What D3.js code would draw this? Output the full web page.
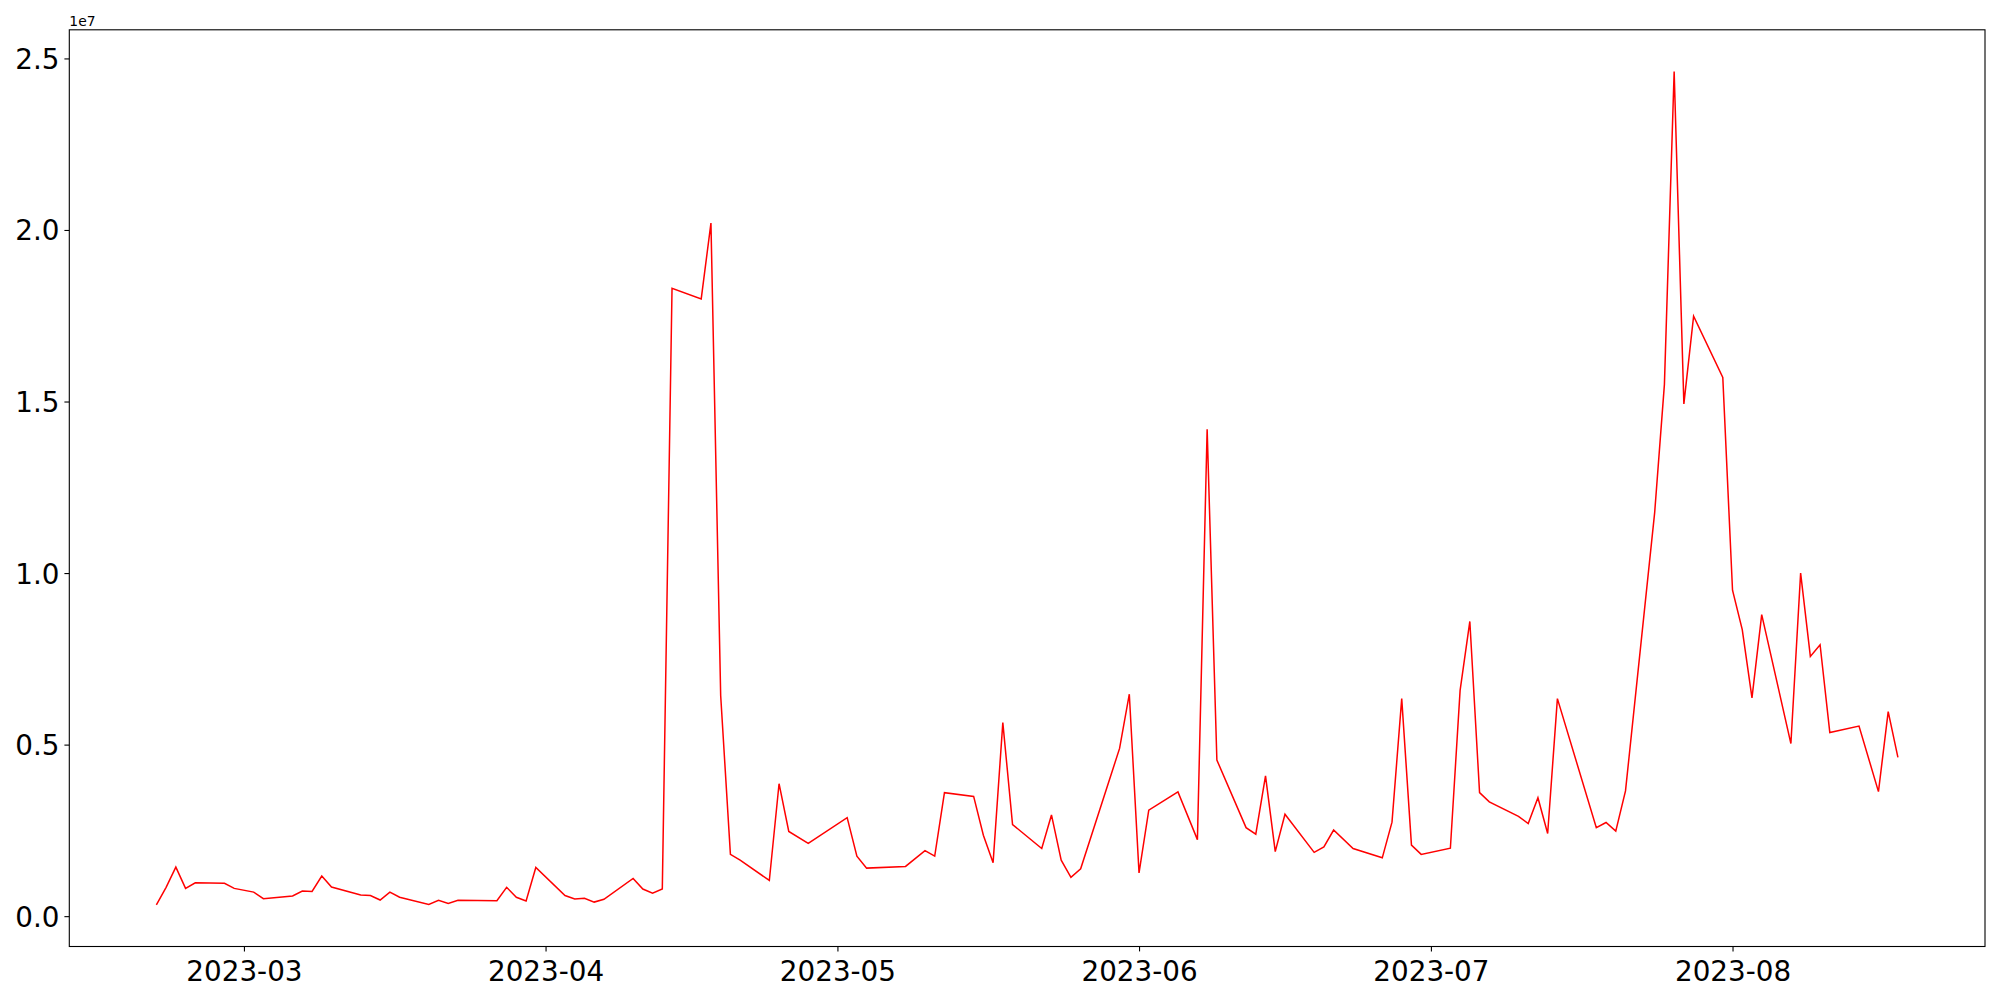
<!DOCTYPE html>
<html>
<head>
<meta charset="utf-8">
<script src="https://cdn.jsdelivr.net/npm/d3@7"></script>
<style>
  body { margin: 0; background: #fff; }
  svg { display: block; font-family: "DejaVu Sans", sans-serif; }
</style>
</head>
<body>
<div class="chart"></div>
<script>
// Dates (trading days) and daily values
var dates = [
  "2023-02-20", "2023-02-21", "2023-02-22", "2023-02-23", "2023-02-24", "2023-02-27", "2023-02-28",
  "2023-03-02", "2023-03-03", "2023-03-06", "2023-03-07", "2023-03-08", "2023-03-09", "2023-03-10",
  "2023-03-13", "2023-03-14", "2023-03-15", "2023-03-16", "2023-03-17", "2023-03-20", "2023-03-21",
  "2023-03-22", "2023-03-23", "2023-03-27", "2023-03-28", "2023-03-29", "2023-03-30", "2023-03-31",
  "2023-04-03", "2023-04-04", "2023-04-05", "2023-04-06", "2023-04-07", "2023-04-10", "2023-04-11",
  "2023-04-12", "2023-04-13", "2023-04-14", "2023-04-17", "2023-04-18", "2023-04-19", "2023-04-20",
  "2023-04-21", "2023-04-24", "2023-04-25", "2023-04-26", "2023-04-28", "2023-05-02", "2023-05-03",
  "2023-05-04", "2023-05-08", "2023-05-10", "2023-05-11", "2023-05-12", "2023-05-15", "2023-05-16",
  "2023-05-17", "2023-05-18", "2023-05-19", "2023-05-22", "2023-05-23", "2023-05-24", "2023-05-25",
  "2023-05-26", "2023-05-30", "2023-05-31", "2023-06-01", "2023-06-02", "2023-06-05", "2023-06-07",
  "2023-06-08", "2023-06-09", "2023-06-12", "2023-06-13", "2023-06-14", "2023-06-15", "2023-06-16",
  "2023-06-19", "2023-06-20", "2023-06-21", "2023-06-23", "2023-06-26", "2023-06-27", "2023-06-28",
  "2023-06-29", "2023-06-30", "2023-07-03", "2023-07-04", "2023-07-05", "2023-07-06", "2023-07-07",
  "2023-07-10", "2023-07-11", "2023-07-12", "2023-07-13", "2023-07-14", "2023-07-18", "2023-07-19",
  "2023-07-20", "2023-07-21", "2023-07-24", "2023-07-25", "2023-07-26", "2023-07-27", "2023-07-28",
  "2023-07-31", "2023-08-01", "2023-08-02", "2023-08-03", "2023-08-04", "2023-08-07", "2023-08-08",
  "2023-08-09", "2023-08-10", "2023-08-11", "2023-08-14", "2023-08-16", "2023-08-17", "2023-08-18"
];

var values = [
  330000, 840000, 1430000, 810000, 970000, 960000, 810000,
  700000, 510000, 590000, 730000, 720000, 1170000, 850000,
  620000, 600000, 470000, 700000, 550000, 340000, 460000,
  370000, 460000, 450000, 840000, 550000, 440000, 1420000,
  600000, 500000, 520000, 410000, 490000, 1100000, 790000,
  670000, 790000, 18300000, 17990000, 20200000, 6430000, 1800000,
  1630000, 1040000, 3860000, 2470000, 2120000, 2870000, 1750000,
  1400000, 1450000, 1910000, 1750000, 3600000, 3490000, 2360000,
  1560000, 5640000, 2670000, 1970000, 2950000, 1630000, 1130000,
  1380000, 4890000, 6470000, 1260000, 3090000, 3620000, 2230000,
  14190000, 4550000, 2580000, 2390000, 4090000, 1880000, 2970000,
  1860000, 2020000, 2510000, 1970000, 1700000, 2740000, 6340000,
  2070000, 1800000, 1980000, 6580000, 8590000, 3600000, 3330000,
  2910000, 2700000, 3450000, 2410000, 6340000, 2580000, 2730000,
  2480000, 3650000, 11770000, 15500000, 24620000, 14930000, 17490000,
  15700000, 9500000, 8350000, 6360000, 8790000, 5030000, 10000000,
  7570000, 7910000, 5350000, 5540000, 3630000, 5960000, 4630000
];

var yTicks = [0, 5000000, 10000000, 15000000, 20000000, 25000000];
var xTicks = ["2023-03-01", "2023-04-01", "2023-05-01", "2023-06-01", "2023-07-01", "2023-08-01"];

// SVG area and plot margins
var svgWidth = 2000;
var svgHeight = 1000;
var margin = { top: 29.8, right: 15, bottom: 53.5, left: 69.3 };
var chartWidth = svgWidth - margin.left - margin.right;
var chartHeight = svgHeight - margin.top - margin.bottom;

var parseDate = d3.timeParse("%Y-%m-%d");
var data = dates.map(function(d, i) {
  return { date: parseDate(d), value: values[i] };
});

var svg = d3.select(".chart")
  .append("svg")
  .attr("width", svgWidth)
  .attr("height", svgHeight);

var chartGroup = svg.append("g")
  .attr("transform", `translate(${margin.left}, ${margin.top})`);

// matplotlib-style 5% margins on both axes
var xExt = d3.extent(data, d => d.date);
var xPad = (xExt[1] - xExt[0]) * 0.05;
var xScale = d3.scaleTime()
  .domain([new Date(+xExt[0] - xPad), new Date(+xExt[1] + xPad)])
  .range([0, chartWidth]);

var yExt = d3.extent(data, d => d.value);
var yPad = (yExt[1] - yExt[0]) * 0.05;
var yScale = d3.scaleLinear()
  .domain([yExt[0] - yPad, yExt[1] + yPad])
  .range([chartHeight, 0]);

var bottomAxis = d3.axisBottom(xScale)
  .tickValues(xTicks.map(parseDate))
  .tickFormat(d3.timeFormat("%Y-%m"))
  .tickSize(4.9)
  .tickSizeOuter(0)
  .tickPadding(6);

var leftAxis = d3.axisLeft(yScale)
  .tickValues(yTicks)
  .tickFormat(d => (d / 1e7).toFixed(1))
  .tickSize(4.9)
  .tickSizeOuter(0)
  .tickPadding(5);

var xAxisG = chartGroup.append("g")
  .attr("transform", `translate(0, ${chartHeight})`)
  .call(bottomAxis);

var yAxisG = chartGroup.append("g")
  .call(leftAxis);

[xAxisG, yAxisG].forEach(function(g) {
  g.select(".domain").remove();
  g.selectAll(".tick line").attr("stroke", "#000").attr("stroke-width", 1.1);
  g.selectAll(".tick text")
    .attr("fill", "#000")
    .style("font-family", "'DejaVu Sans', sans-serif")
    .style("font-size", "27.8px");
});
xAxisG.selectAll(".tick text").attr("dy", "0.85em");
yAxisG.selectAll(".tick text").attr("dy", "0.36em");

// the line
var line = d3.line()
  .x(d => xScale(d.date))
  .y(d => yScale(d.value));

chartGroup.append("path")
  .datum(data)
  .attr("fill", "none")
  .attr("stroke", "#ff0000")
  .attr("stroke-width", 1.5)
  .attr("stroke-linejoin", "miter")
  .attr("d", line);

// frame
chartGroup.append("rect")
  .attr("x", 0)
  .attr("y", 0)
  .attr("width", chartWidth)
  .attr("height", chartHeight)
  .attr("fill", "none")
  .attr("stroke", "#000")
  .attr("stroke-width", 1.1);

// offset text above the y axis
chartGroup.append("text")
  .attr("x", 0)
  .attr("y", -4)
  .attr("fill", "#000")
  .style("font-size", "13.9px")
  .text("1e7");
</script>
</body>
</html>
